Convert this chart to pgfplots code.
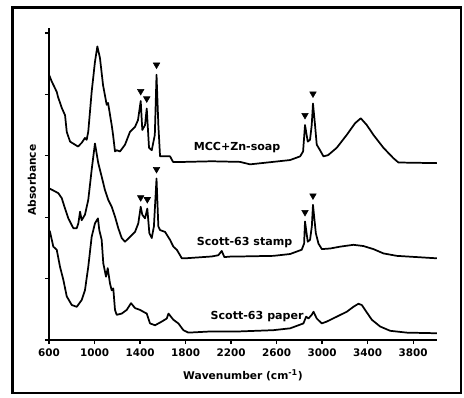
\documentclass[border=0pt]{standalone}
\usepackage{pgfplots}
\pgfplotsset{compat=1.18}
\usepackage{fontspec}
\setmainfont{DejaVu Sans}
\begin{document}
\begin{tikzpicture}
\useasboundingbox (-36.75pt,-42.75pt) rectangle (311.25pt,255pt);
\draw[line width=1.6pt] (-27.4pt,-39.75pt) rectangle (309pt,249.4pt);
\begin{axis}[
  at={(0pt,0pt)}, anchor=south west,
  scale only axis, width=291pt, height=234pt,
  xmin=600, xmax=4010, ymin=0, ymax=5.08,
  axis x line*=bottom, axis y line*=left,
  axis line style={line width=1pt},
  xtick={600,1000,...,3800}, ytick={0,1,...,5}, yticklabels={},
  tick align=outside, major tick length=3pt,
  tick style={line width=0.9pt, black},
  /pgf/number format/assume math mode=true,
  /pgf/number format/set thousands separator={},
  xticklabel style={font=\bfseries\fontsize{7.8}{8}\selectfont},
  xlabel={Wavenumber (cm\textsuperscript{-1})},
  ylabel={Absorbance},
  label style={font=\bfseries\fontsize{8}{9}\selectfont},
  xlabel style={at={(axis description cs:0.5,-0.112)}, anchor=center},
  ylabel style={at={(axis description cs:-0.0438,0.513)}, anchor=center},
]
% MCC+Zn-soap
\addplot[black, line width=1.3pt, line join=round] coordinates {
(600,4.32) (624,4.21) (668,4.04) (679,3.96) (712,3.78) (741,3.66) (756,3.39) (785,3.23) (829,3.18) (855,3.15) (887,3.21) (916,3.29) (931,3.26) (945,3.39) (975,4.04) (1004,4.53) (1025,4.78) (1048,4.59) (1075,4.15) (1107,3.83) (1119,3.86) (1151,3.50) (1163,3.34) (1180,3.07) (1195,3.09) (1224,3.07) (1268,3.18) (1312,3.39) (1356,3.47) (1382,3.58) (1406,3.89) (1420,3.42) (1444,3.50) (1459,3.77) (1479,3.13) (1503,3.09) (1530,3.34) (1545,4.32) (1561,3.50) (1576,2.99) (1620,2.99) (1664,2.99) (1690,2.90) (1796,2.90) (2030,2.91) (2279,2.90) (2367,2.86) (2569,2.90) (2719,2.93) (2807,2.99) (2833,3.07) (2850,3.50) (2874,3.23) (2894,3.26) (2909,3.50) (2920,3.85) (2938,3.50) (2953,3.18) (2982,3.09) (3012,2.99) (3053,3.01) (3129,3.13) (3217,3.34) (3290,3.53) (3340,3.61) (3393,3.50) (3451,3.34) (3539,3.13) (3627,2.96) (3671,2.89) (4008,2.88)
};
% Scott-63 stamp
\addplot[black, line width=1.3pt, line join=round] coordinates {
(600,2.47) (653,2.42) (682,2.39) (712,2.31) (741,2.14) (770,1.98) (814,1.82) (844,1.82) (858,1.90) (873,2.09) (887,1.95) (916,2.04) (945,2.28) (975,2.77) (1004,3.20) (1033,2.88) (1063,2.66) (1092,2.44) (1121,2.28) (1151,2.17) (1180,2.01) (1209,1.82) (1239,1.66) (1268,1.60) (1312,1.68) (1356,1.76) (1385,1.90) (1406,2.17) (1420,2.04) (1444,1.98) (1464,2.14) (1482,1.74) (1503,1.66) (1522,1.85) (1545,2.63) (1561,1.85) (1576,1.79) (1620,1.76) (1664,1.63) (1693,1.52) (1723,1.47) (1752,1.38) (1767,1.33) (1796,1.33) (2030,1.36) (2088,1.38) (2118,1.45) (2141,1.35) (2206,1.36) (2279,1.36) (2572,1.37) (2719,1.40) (2821,1.47) (2842,1.57) (2850,1.93) (2874,1.60) (2894,1.63) (2910,1.85) (2920,2.20) (2945,1.74) (2968,1.57) (2998,1.48) (3071,1.49) (3159,1.52) (3275,1.55) (3363,1.53) (3451,1.48) (3539,1.41) (3657,1.37) (4008,1.33)
};
% Scott-63 paper
\addplot[black, line width=1.3pt, line join=round] coordinates {
(600,1.79) (609,1.76) (638,1.52) (668,1.47) (697,1.19) (726,0.98) (756,0.71) (800,0.57) (844,0.54) (887,0.65) (916,0.81) (945,1.19) (975,1.68) (1004,1.90) (1030,1.98) (1042,1.79) (1063,1.63) (1077,1.25) (1101,1.03) (1116,1.17) (1136,0.92) (1151,0.81) (1165,0.84) (1180,0.49) (1195,0.41) (1239,0.43) (1283,0.49) (1321,0.60) (1356,0.52) (1400,0.49) (1429,0.46) (1459,0.43) (1488,0.27) (1532,0.24) (1591,0.30) (1635,0.35) (1650,0.43) (1693,0.33) (1737,0.27) (1781,0.16) (1825,0.12) (2030,0.14) (2279,0.14) (2572,0.16) (2719,0.19) (2836,0.27) (2860,0.38) (2880,0.35) (2909,0.41) (2925,0.46) (2953,0.35) (2997,0.27) (3041,0.30) (3129,0.38) (3217,0.46) (3275,0.54) (3319,0.59) (3349,0.57) (3378,0.49) (3437,0.33) (3510,0.22) (3598,0.15) (3745,0.12) (4008,0.11)
};
% peak markers
\addplot[only marks, black, mark=triangle*, mark size=2.8pt, mark options={rotate=180, fill=black, line width=0.4pt}] coordinates {
(1406,4.05) (1459,3.93) (1545,4.48) (2850,3.66) (2920,4.01)
(1406,2.32) (1464,2.29) (1545,2.78) (2850,2.08) (2920,2.35)
};
\node[font=\bfseries\fontsize{8.3}{9}\selectfont] at (axis cs:2253,3.13) {MCC+Zn-soap};
\node[font=\bfseries\fontsize{8.3}{9}\selectfont] at (axis cs:2319,1.58) {Scott-63 stamp};
\node[font=\bfseries\fontsize{8.3}{9}\selectfont] at (axis cs:2429,0.39) {Scott-63 paper};
\end{axis}
\end{tikzpicture}
\end{document}
